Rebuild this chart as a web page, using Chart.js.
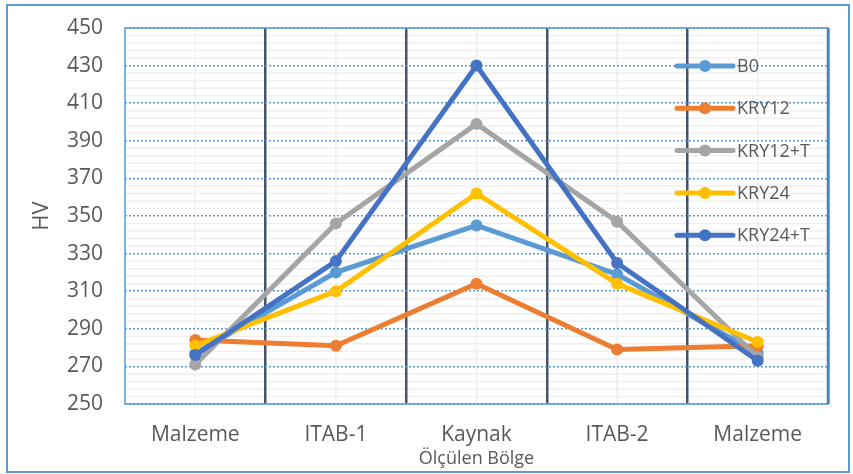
<!DOCTYPE html>
<html>
<head>
<meta charset="utf-8">
<script src="https://cdn.jsdelivr.net/npm/chart.js@4"></script>
<style>
  html, body { margin: 0; padding: 0; background: #fff; }
  canvas { display: block; }
</style>
</head>
<body>
<canvas id="hv-chart" width="853" height="474"></canvas>
<script>
// Hardness readings across the welded joint
const regions = ['Malzeme', 'ITAB-1', 'Kaynak', 'ITAB-2', 'Malzeme'];
const seriesNames = ['B0', 'KRY12', 'KRY12+T', 'KRY24', 'KRY24+T'];
const b0 = [277, 320, 345, 319, 277];
const kry12 = [284, 281, 314, 279, 281];
const kry12T = [271, 346, 399, 347, 275];
const kry24 = [281, 310, 362, 314, 283];
const kry24T = [276, 326, 430, 325, 273];
const yMin = 250;
const yMax = 450;
const yStep = 20;
const yMinorStep = 4;

const colors = ['#5B9BD5', '#ED7D31', '#A5A5A5', '#FFC000', '#4472C4'];
const values = [b0, kry12, kry12T, kry24, kry24T];

const textColor = '#595959';
const fontFamily = '"Open Sans", "Noto Sans", sans-serif';

const makeDataset = (name, data, i) => ({
    label: name,
    data: data,
    borderColor: colors[i],
    backgroundColor: colors[i],
    pointBackgroundColor: colors[i],
    pointBorderWidth: 0,
    pointRadius: 6,
    borderWidth: 5,
    tension: 0,
    // later series sit on top
    order: seriesNames.length - 1 - i
});

// Light minor grid under the main grid
const minorGrid = {
    id: 'minorGrid',
    beforeDraw(chart) {
        const { ctx, chartArea: a, scales } = chart;
        ctx.save();
        ctx.strokeStyle = '#EFEFEF';
        ctx.lineWidth = 1.5;
        ctx.beginPath();
        for (let v = yMin + yMinorStep; v < yMax; v += yMinorStep) {
            if ((v - yMin) % yStep === 0) continue;
            const y = scales.y.getPixelForValue(v);
            ctx.moveTo(a.left, y);
            ctx.lineTo(a.right, y);
        }
        regions.forEach((r, i) => {
            const x = scales.x.getPixelForValue(i);
            ctx.moveTo(x, a.top);
            ctx.lineTo(x, a.bottom);
        });
        ctx.stroke();
        ctx.restore();
    }
};

// Plot frame and outer chart border
const frame = {
    id: 'frame',
    beforeDatasetsDraw(chart) {
        const { ctx, chartArea: a } = chart;
        ctx.save();
        ctx.strokeStyle = '#5B9BD5';
        ctx.lineWidth = 1.5;
        ctx.strokeRect(a.left, a.top, a.right - a.left, a.bottom - a.top);
        ctx.strokeStyle = '#4F81BD';
        ctx.lineWidth = 2.5;
        ctx.beginPath();
        ctx.moveTo(a.right, a.top);
        ctx.lineTo(a.right, a.bottom);
        ctx.stroke();
        ctx.restore();
    },
    afterDraw(chart) {
        const { ctx } = chart;
        ctx.save();
        ctx.strokeStyle = '#5B9BD5';
        ctx.lineWidth = 2;
        ctx.strokeRect(7, 5, 842, 467);
        ctx.restore();
    }
};

// Legend drawn inside the plot, on the right
const insideLegend = {
    id: 'insideLegend',
    afterDatasetsDraw(chart) {
        const { ctx, chartArea: a } = chart;
        const x0 = a.right - 151;
        const lineLen = 56;
        const rowGap = 42.3;
        const y0 = a.top + 38;
        ctx.save();
        ctx.font = '18px ' + fontFamily;
        ctx.textBaseline = 'middle';
        ctx.textAlign = 'left';
        chart.data.datasets.forEach((ds, i) => {
            const y = y0 + i * rowGap;
            ctx.strokeStyle = ds.borderColor;
            ctx.lineWidth = 5;
            ctx.lineCap = 'round';
            ctx.beginPath();
            ctx.moveTo(x0, y);
            ctx.lineTo(x0 + lineLen, y);
            ctx.stroke();
            ctx.fillStyle = ds.borderColor;
            ctx.beginPath();
            ctx.arc(x0 + lineLen / 2, y, 6, 0, Math.PI * 2);
            ctx.fill();
            ctx.fillStyle = textColor;
            ctx.fillText(ds.label, x0 + lineLen + 4, y + 1);
        });
        ctx.restore();
    }
};

new Chart(document.getElementById('hv-chart'), {
    type: 'line',
    data: {
        labels: regions,
        datasets: seriesNames.map((n, i) => makeDataset(n, values[i], i))
    },
    options: {
        responsive: false,
        animation: false,
        layout: { padding: { top: 28, right: 25, left: 0, bottom: 0 } },
        plugins: {
            legend: { display: false },
            tooltip: { enabled: false }
        },
        scales: {
            x: {
                type: 'category',
                offset: true,
                afterFit: (scale) => {
                    scale.height = 70;
                    scale.paddingLeft = 0;
                    scale.paddingRight = 0;
                },
                grid: {
                    offset: true,
                    drawTicks: false,
                    lineWidth: 2.5,
                    color: (c) => (c.index === 0 || c.index === regions.length) ? 'rgba(0,0,0,0)' : '#44546A'
                },
                border: { display: false },
                ticks: {
                    color: textColor,
                    padding: 18,
                    maxRotation: 0,
                    font: { family: fontFamily, size: 21 }
                },
                title: {
                    display: true,
                    text: 'Ölçülen Bölge',
                    color: textColor,
                    padding: { top: 0, bottom: 4 },
                    font: { family: fontFamily, size: 18 }
                }
            },
            y: {
                min: yMin,
                max: yMax,
                afterFit: (scale) => {
                    scale.width = 125;
                    scale.paddingTop = 0;
                    scale.paddingBottom = 0;
                },
                grid: {
                    drawTicks: false,
                    color: '#5B9BD5',
                    lineWidth: 1.5
                },
                border: { display: false, dash: [2, 2] },
                ticks: {
                    stepSize: yStep,
                    color: textColor,
                    padding: 22,
                    font: { family: fontFamily, size: 21 }
                },
                title: {
                    display: true,
                    text: 'HV',
                    color: textColor,
                    padding: { top: 29, bottom: 0 },
                    font: { family: fontFamily, size: 22 }
                }
            }
        }
    },
    plugins: [minorGrid, frame, insideLegend]
});
</script>
</body>
</html>
